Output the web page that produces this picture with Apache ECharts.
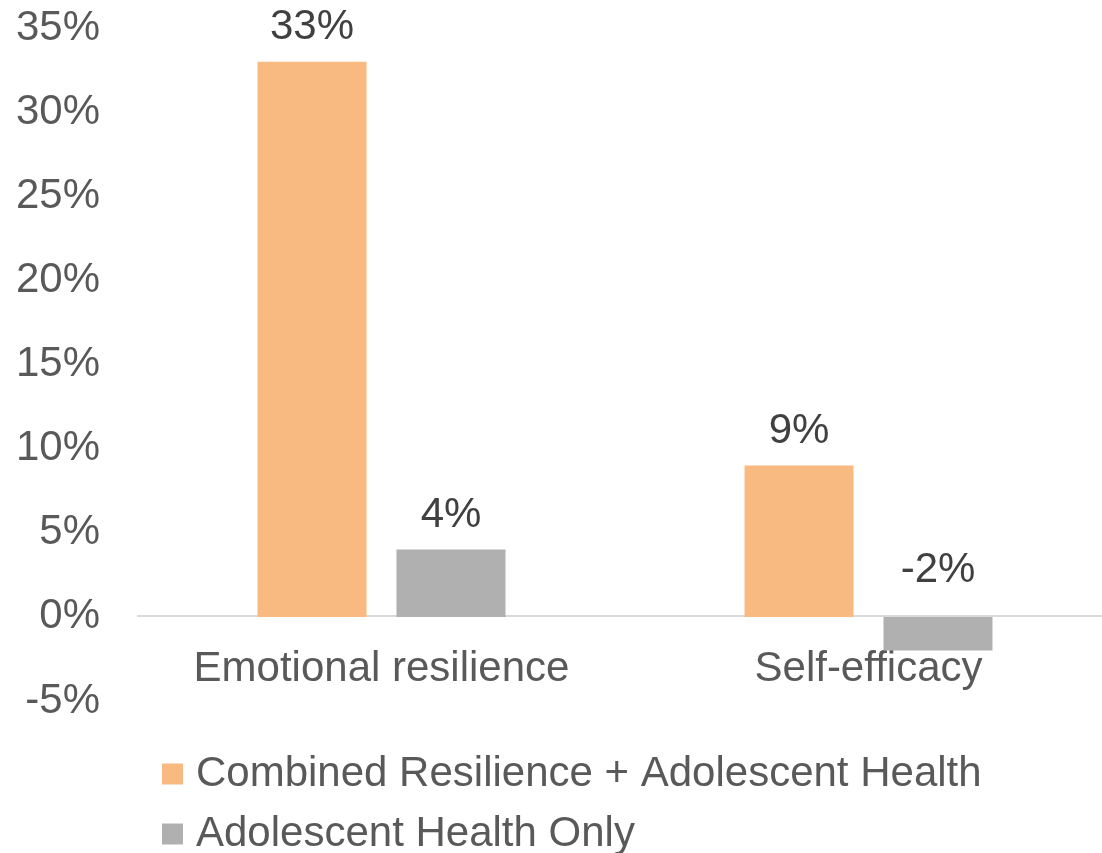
<!DOCTYPE html>
<html>
<head>
<meta charset="utf-8">
<script src="https://cdn.jsdelivr.net/npm/echarts@6/dist/echarts.min.js"></script>
<style>
  html, body { margin: 0; padding: 0; background: #ffffff; }
  #chart { width: 1102px; height: 853px; }
</style>
</head>
<body>
<div id="chart"></div>
<script>
// Outcome categories and percentage-change values for each program group
const categories = ['Emotional resilience', 'Self-efficacy'];
const seriesNames = ['Combined Resilience + Adolescent Health', 'Adolescent Health Only'];
const combinedValues = [0.33, 0.09];
const healthOnlyValues = [0.04, -0.02];
const yTicks = { min: -0.05, max: 0.35, interval: 0.05 };

const FONT = '"Liberation Sans", Arial, sans-serif';
const pct = v => Math.round(v * 100) + '%';

const chart = echarts.init(document.getElementById('chart'), null, { renderer: 'canvas' });

function labelledData(values) {
  return values.map(v => ({
    value: v,
    label: { distance: v < 0 ? 25 : 13 }
  }));
}

const barLabel = {
  show: true,
  position: 'top',
  formatter: p => pct(p.value),
  fontFamily: FONT,
  fontSize: 42,
  color: '#404040'
};

function legendRow(name, top) {
  return {
    orient: 'vertical',
    left: 157,
    top: top,
    icon: 'rect',
    itemWidth: 21,
    itemHeight: 21,
    textStyle: {
      fontFamily: FONT,
      fontSize: 42,
      color: '#595959',
      padding: [0, 0, 0, 8]
    },
    data: [name]
  };
}

chart.setOption({
  animation: false,
  backgroundColor: '#ffffff',
  textStyle: { fontFamily: FONT },
  grid: {
    left: 138, top: 28, width: 974, bottom: 152,
    containLabel: false, outerBoundsMode: 'none'
  },
  legend: [
    legendRow(seriesNames[0], 748),
    legendRow(seriesNames[1], 808)
  ],
  xAxis: {
    type: 'category',
    data: categories,
    // axis sits on the 0% line, 85px above the bottom of the plot
    offset: -85,
    axisLine: { onZero: false, lineStyle: { color: '#D9D9D9', width: 2 } },
    axisTick: { show: false },
    axisLabel: { interval: 0, fontFamily: FONT, fontSize: 42, color: '#595959', margin: 32 },
    splitLine: { show: false }
  },
  yAxis: {
    type: 'value',
    min: yTicks.min,
    max: yTicks.max,
    interval: yTicks.interval,
    axisLine: { show: false },
    axisTick: { show: false },
    splitLine: { show: false },
    axisLabel: {
      fontFamily: FONT,
      fontSize: 42,
      color: '#595959',
      margin: 38,
      formatter: v => pct(v)
    }
  },
  series: [
    {
      name: seriesNames[0],
      type: 'bar',
      barWidth: 109,
      barGap: '27.5%',
      itemStyle: { color: '#F9BA82' },
      label: barLabel,
      data: labelledData(combinedValues)
    },
    {
      name: seriesNames[1],
      type: 'bar',
      barWidth: 109,
      barGap: '27.5%',
      itemStyle: { color: '#B0B0B0' },
      label: barLabel,
      data: labelledData(healthOnlyValues)
    }
  ]
});
</script>
</body>
</html>
